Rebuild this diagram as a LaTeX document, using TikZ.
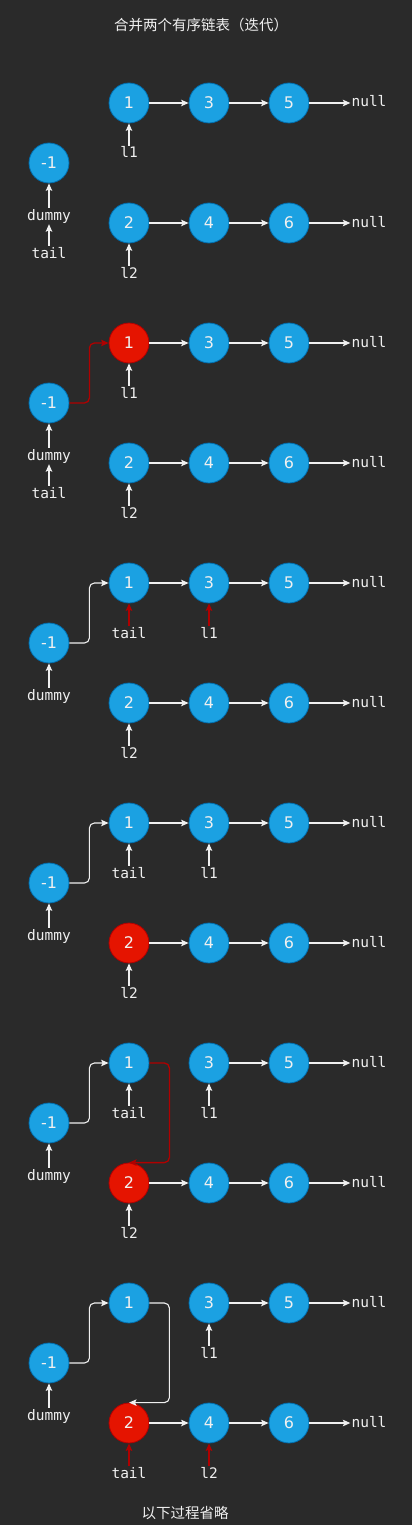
\documentclass[tikz,border=0pt]{standalone}
\usepackage{fontspec}
\usepackage{tikz}
\usetikzlibrary{shapes,arrows.meta,calc}
\setmonofont{DejaVu Sans Mono}
\newfontfamily\numfont{DejaVu Sans}
\newfontfamily\cjk{Noto Sans CJK SC}
\definecolor{bg}{HTML}{2A2A2A}
\definecolor{nodeblue}{HTML}{1BA1E2}
\definecolor{blueedge}{HTML}{006EAF}
\definecolor{nodered}{HTML}{E51400}
\definecolor{rededge}{HTML}{B20000}
\definecolor{linkred}{HTML}{B00000}
\definecolor{txt}{HTML}{F0F0F0}
\tikzstyle{line} = [draw=txt, line width=1.1pt, -{Stealth[length=7.5pt,width=6.5pt,inset=1.5pt]}]
\tikzstyle{redline} = [line, draw=linkred, line width=1.3pt]
\tikzstyle{link} = [line, rounded corners=5pt]
\tikzstyle{redlink} = [redline, rounded corners=5pt]
\tikzstyle{list} = [draw=blueedge, fill=nodeblue, circle, minimum size=40pt, inner sep=0pt, line width=0.8pt, text=txt, font=\numfont\fontsize{16}{19}\selectfont]
\tikzstyle{hit} = [list, draw=rededge, fill=nodered]
\tikzstyle{ptr} = [text=txt, inner sep=1pt, text height=11pt, text depth=3pt, font=\ttfamily\fontsize{14.5}{17}\selectfont]
\tikzstyle{caption} = [text=txt, font=\cjk\fontsize{14.5}{17}\selectfont]

\begin{document}
\begin{tikzpicture}[x=1pt, y=1pt, node distance=80pt]
    \fill[bg] (0,0) rectangle (412,-1525);
    \useasboundingbox (0,0) rectangle (412,-1525);
    \node[caption] (title) at (201,-25) {合并两个有序链表（迭代）};

    % step 1
    \node[list] (n1a) at (129,-103) {1};
    \node[list, right of=n1a] (n3a) {3};
    \node[list, right of=n3a] (n5a) {5};
    \node[ptr, right of=n5a] (null1a) {null};
    \node[list] (n2a) at (129,-223) {2};
    \node[list, right of=n2a] (n4a) {4};
    \node[list, right of=n4a] (n6a) {6};
    \node[ptr, right of=n6a] (null2a) {null};
    \node[list] (hda) at (49,-163) {-1};
    \node[ptr, below of=hda, node distance=53pt] (dmya) {dummy};
    \node[ptr, below of=dmya, node distance=38pt] (taila) {tail};
    \node[ptr, below of=n1a, node distance=51pt] (l1a) {l1};
    \node[ptr, below of=n2a, node distance=51pt] (l2a) {l2};
    \path[line] (n1a) -- (n3a);
    \path[line] (n3a) -- (n5a);
    \path[line] (n5a) -- (null1a);
    \path[line] (n2a) -- (n4a);
    \path[line] (n4a) -- (n6a);
    \path[line] (n6a) -- (null2a);
    \path[line] (dmya) -- (hda);
    \path[line] (taila) -- (dmya);
    \path[line] (l1a) -- (n1a);
    \path[line] (l2a) -- (n2a);

    % step 2
    \begin{scope}[yshift=-240pt]
    \node[hit] (n1b) at (129,-103) {1};
    \node[list, right of=n1b] (n3b) {3};
    \node[list, right of=n3b] (n5b) {5};
    \node[ptr, right of=n5b] (null1b) {null};
    \node[list] (n2b) at (129,-223) {2};
    \node[list, right of=n2b] (n4b) {4};
    \node[list, right of=n4b] (n6b) {6};
    \node[ptr, right of=n6b] (null2b) {null};
    \node[list] (hdb) at (49,-163) {-1};
    \node[ptr, below of=hdb, node distance=53pt] (dmyb) {dummy};
    \node[ptr, below of=dmyb, node distance=38pt] (tailb) {tail};
    \node[ptr, below of=n1b, node distance=51pt] (l1b) {l1};
    \node[ptr, below of=n2b, node distance=51pt] (l2b) {l2};
    \path[line] (n1b) -- (n3b);
    \path[line] (n3b) -- (n5b);
    \path[line] (n5b) -- (null1b);
    \path[line] (n2b) -- (n4b);
    \path[line] (n4b) -- (n6b);
    \path[line] (n6b) -- (null2b);
    \path[line] (dmyb) -- (hdb);
    \path[line] (tailb) -- (dmyb);
    \path[line] (l1b) -- (n1b);
    \path[line] (l2b) -- (n2b);
    \path[redlink] (hdb.east) -- ++(20,0) |- (n1b.west);
    \end{scope}

    % step 3
    \begin{scope}[yshift=-480pt]
    \node[list] (n1c) at (129,-103) {1};
    \node[list, right of=n1c] (n3c) {3};
    \node[list, right of=n3c] (n5c) {5};
    \node[ptr, right of=n5c] (null1c) {null};
    \node[list] (n2c) at (129,-223) {2};
    \node[list, right of=n2c] (n4c) {4};
    \node[list, right of=n4c] (n6c) {6};
    \node[ptr, right of=n6c] (null2c) {null};
    \node[list] (hdc) at (49,-163) {-1};
    \node[ptr, below of=hdc, node distance=53pt] (dmyc) {dummy};
    \node[ptr, below of=n1c, node distance=51pt] (tailc) {tail};
    \node[ptr, below of=n3c, node distance=51pt] (l1c) {l1};
    \node[ptr, below of=n2c, node distance=51pt] (l2c) {l2};
    \path[line] (n1c) -- (n3c);
    \path[line] (n3c) -- (n5c);
    \path[line] (n5c) -- (null1c);
    \path[line] (n2c) -- (n4c);
    \path[line] (n4c) -- (n6c);
    \path[line] (n6c) -- (null2c);
    \path[line] (dmyc) -- (hdc);
    \path[redline] (tailc) -- (n1c);
    \path[redline] (l1c) -- (n3c);
    \path[line] (l2c) -- (n2c);
    \path[link] (hdc.east) -- ++(20,0) |- (n1c.west);
    \end{scope}

    % step 4
    \begin{scope}[yshift=-720pt]
    \node[list] (n1d) at (129,-103) {1};
    \node[list, right of=n1d] (n3d) {3};
    \node[list, right of=n3d] (n5d) {5};
    \node[ptr, right of=n5d] (null1d) {null};
    \node[hit] (n2d) at (129,-223) {2};
    \node[list, right of=n2d] (n4d) {4};
    \node[list, right of=n4d] (n6d) {6};
    \node[ptr, right of=n6d] (null2d) {null};
    \node[list] (hdd) at (49,-163) {-1};
    \node[ptr, below of=hdd, node distance=53pt] (dmyd) {dummy};
    \node[ptr, below of=n1d, node distance=51pt] (taild) {tail};
    \node[ptr, below of=n3d, node distance=51pt] (l1d) {l1};
    \node[ptr, below of=n2d, node distance=51pt] (l2d) {l2};
    \path[line] (n1d) -- (n3d);
    \path[line] (n3d) -- (n5d);
    \path[line] (n5d) -- (null1d);
    \path[line] (n2d) -- (n4d);
    \path[line] (n4d) -- (n6d);
    \path[line] (n6d) -- (null2d);
    \path[line] (dmyd) -- (hdd);
    \path[line] (taild) -- (n1d);
    \path[line] (l1d) -- (n3d);
    \path[line] (l2d) -- (n2d);
    \path[link] (hdd.east) -- ++(20,0) |- (n1d.west);
    \end{scope}

    % step 5
    \begin{scope}[yshift=-960pt]
    \node[list] (n1e) at (129,-103) {1};
    \node[list, right of=n1e] (n3e) {3};
    \node[list, right of=n3e] (n5e) {5};
    \node[ptr, right of=n5e] (null1e) {null};
    \node[hit] (n2e) at (129,-223) {2};
    \node[list, right of=n2e] (n4e) {4};
    \node[list, right of=n4e] (n6e) {6};
    \node[ptr, right of=n6e] (null2e) {null};
    \node[list] (hde) at (49,-163) {-1};
    \node[ptr, below of=hde, node distance=53pt] (dmye) {dummy};
    \node[ptr, below of=n1e, node distance=51pt] (taile) {tail};
    \node[ptr, below of=n3e, node distance=51pt] (l1e) {l1};
    \node[ptr, below of=n2e, node distance=51pt] (l2e) {l2};
    \path[line] (n3e) -- (n5e);
    \path[line] (n5e) -- (null1e);
    \path[line] (n2e) -- (n4e);
    \path[line] (n4e) -- (n6e);
    \path[line] (n6e) -- (null2e);
    \path[line] (dmye) -- (hde);
    \path[line] (taile) -- (n1e);
    \path[line] (l1e) -- (n3e);
    \path[line] (l2e) -- (n2e);
    \path[link] (hde.east) -- ++(20,0) |- (n1e.west);
    \path[redlink] (n1e.east) -- ++(20,0) |- (n2e.north);
    \end{scope}

    % step 6
    \begin{scope}[yshift=-1200pt]
    \node[list] (n1f) at (129,-103) {1};
    \node[list, right of=n1f] (n3f) {3};
    \node[list, right of=n3f] (n5f) {5};
    \node[ptr, right of=n5f] (null1f) {null};
    \node[hit] (n2f) at (129,-223) {2};
    \node[list, right of=n2f] (n4f) {4};
    \node[list, right of=n4f] (n6f) {6};
    \node[ptr, right of=n6f] (null2f) {null};
    \node[list] (hdf) at (49,-163) {-1};
    \node[ptr, below of=hdf, node distance=53pt] (dmyf) {dummy};
    \node[ptr, below of=n3f, node distance=51pt] (l1f) {l1};
    \node[ptr, below of=n2f, node distance=51pt] (tailf) {tail};
    \node[ptr, below of=n4f, node distance=51pt] (l2f) {l2};
    \path[line] (n3f) -- (n5f);
    \path[line] (n5f) -- (null1f);
    \path[line] (n2f) -- (n4f);
    \path[line] (n4f) -- (n6f);
    \path[line] (n6f) -- (null2f);
    \path[line] (dmyf) -- (hdf);
    \path[line] (l1f) -- (n3f);
    \path[redline] (tailf) -- (n2f);
    \path[redline] (l2f) -- (n4f);
    \path[link] (hdf.east) -- ++(20,0) |- (n1f.west);
    \path[link] (n1f.east) -- ++(20,0) |- (n2f.north);
    \end{scope}

    \node[caption] (footer) at (185,-1513) {以下过程省略};
\end{tikzpicture}
\end{document}
